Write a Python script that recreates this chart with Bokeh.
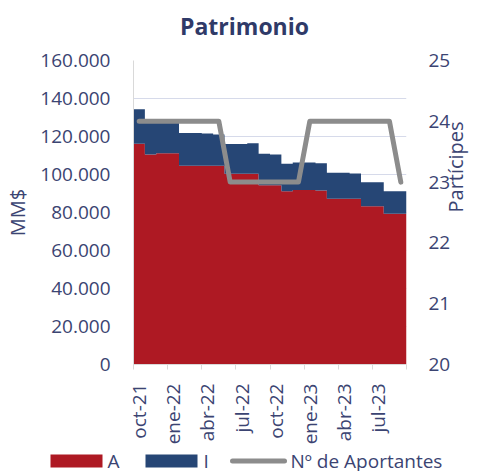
import math
import numpy as np
from bokeh.plotting import figure
from bokeh.layouts import column
from bokeh.models import Range1d, LinearAxis, FixedTicker
from bokeh.core.properties import value
from bokeh.embed import file_html
from bokeh.resources import INLINE

# ---- data ----
months = ["oct-21", "nov-21", "dic-21", "ene-22", "feb-22", "mar-22", "abr-22", "may-22",
          "jun-22", "jul-22", "ago-22", "sep-22", "oct-22", "nov-22", "dic-22", "ene-23",
          "feb-23", "mar-23", "abr-23", "may-23", "jun-23", "jul-23", "ago-23", "sep-23"]
serie_A = [116200, 110500, 111200, 111200, 104600, 104600, 104600, 104600,
           100400, 100400, 100400, 94300, 94300, 91200, 91900, 91900,
           91600, 87200, 87200, 87200, 83300, 83300, 79300, 79300]
serie_I = [18200, 17000, 16300, 16300, 17200, 17200, 17000, 16400,
           15700, 15700, 16100, 16600, 16200, 14400, 14400, 14400,
           14300, 13700, 13700, 13300, 12600, 12600, 11900, 11900]
aportantes = [24, 24, 24, 24, 24, 24, 24, 24,
              23, 23, 23, 23, 23, 23, 23, 24,
              24, 24, 24, 24, 24, 24, 24, 23]
left_ticks = [0, 20000, 40000, 60000, 80000, 100000, 120000, 140000, 160000]
left_labels = ["0", "20.000", "40.000", "60.000", "80.000", "100.000", "120.000", "140.000", "160.000"]
right_ticks = [20, 21, 22, 23, 24, 25]
legend_labels = ["A", "I", "Nº de Aportantes"]
chart_title = "Patrimonio"

RED = "#AE1923"
BLUE = "#264675"
GRAY = "#8C8C8C"
TXT = "#3B4472"
FONT = "Open Sans"
W = 485


def no_align(f):
    if "frame_align" in f.properties():
        f.frame_align = False


def strip(h):
    f = figure(width=W, height=h, output_backend="svg", toolbar_location=None, title=None,
               x_axis_location=None, y_axis_location=None,
               x_range=Range1d(0, W), y_range=Range1d(h, 0),
               min_border=0, min_border_left=0, min_border_right=0,
               min_border_top=0, min_border_bottom=0)
    f.outline_line_color = None
    f.xgrid.visible = False
    f.ygrid.visible = False
    no_align(f)
    return f


# ---- header (title) ----
head = strip(40)
head.text(x=[244], y=[25], text=[chart_title], text_font=value(FONT), text_font_size="23px",
          text_font_style="bold", text_color="#2F3A68", text_align="center",
          text_baseline="middle")

# ---- main chart ----
n = len(months)
idx = np.arange(n)
xs = np.repeat(np.arange(n + 1), 2)[1:-1]
a_step = np.repeat(np.array(serie_A, dtype=float), 2)
tot_step = np.repeat(np.array(serie_A, dtype=float) + np.array(serie_I, dtype=float), 2)

p = figure(width=W, height=408, output_backend="svg", toolbar_location=None, title=None,
           x_range=Range1d(0, n), y_range=Range1d(0, 160000),
           min_border_left=133, min_border_right=79, min_border_top=20, min_border_bottom=84)
p.outline_line_color = None
no_align(p)
p.extra_y_ranges = {"right": Range1d(20, 25)}

p.varea(x=xs, y1=0, y2=a_step, fill_color=RED)
p.varea(x=xs, y1=a_step, y2=tot_step, fill_color=BLUE)
p.line(x=idx + 0.5, y=aportantes, y_range_name="right", line_color=GRAY,
       line_width=5, line_join="round", line_cap="round")

p.xgrid.grid_line_color = None
p.ygrid.grid_line_color = "#D6DAEA"
p.ygrid.level = "underlay"

ly = p.yaxis[0]
ly.ticker = FixedTicker(ticks=left_ticks)
ly.major_label_overrides = {t: s for t, s in zip(left_ticks, left_labels)}
ly.major_tick_out = 0
ly.major_tick_in = 0
ly.minor_tick_out = 0
ly.minor_tick_in = 0
ly.axis_line_color = "#D9D9D9"
ly.major_label_standoff = 23
ly.major_label_text_font = FONT
ly.major_label_text_font_size = "19px"
ly.major_label_text_color = TXT
ly.axis_label = "MM$"
ly.axis_label_text_font = FONT
ly.axis_label_text_font_size = "20px"
ly.axis_label_text_font_style = "normal"
ly.axis_label_text_color = TXT
ly.axis_label_standoff = 6

ry = LinearAxis(y_range_name="right", ticker=FixedTicker(ticks=right_ticks))
ry.major_tick_out = 0
ry.major_tick_in = 0
ry.minor_tick_out = 0
ry.minor_tick_in = 0
ry.axis_line_color = None
ry.major_label_standoff = 22
ry.major_label_text_font = FONT
ry.major_label_text_font_size = "19px"
ry.major_label_text_color = TXT
ry.axis_label = "Partícipes"
ry.axis_label_text_font = FONT
ry.axis_label_text_font_size = "20px"
ry.axis_label_text_font_style = "normal"
ry.axis_label_text_color = TXT
ry.axis_label_standoff = 2
if "axis_label_orientation" in ry.properties():
    ry.axis_label_orientation = math.pi / 2
p.add_layout(ry, "right")

xa = p.xaxis[0]
label_pos = [i + 0.5 for i in range(0, n, 3)]
xa.ticker = FixedTicker(ticks=label_pos, minor_ticks=list(range(0, n + 1, 3)))
xa.major_label_overrides = {i + 0.5: months[i] for i in range(0, n, 3)}
xa.major_label_orientation = math.pi / 2
xa.major_tick_out = 0
xa.major_tick_in = 0
xa.minor_tick_out = 5
xa.minor_tick_in = 0
xa.minor_tick_line_color = "#D9D9D9"
xa.axis_line_color = "#D9D9D9"
xa.major_label_standoff = 14
xa.major_label_text_font = FONT
xa.major_label_text_font_size = "19px"
xa.major_label_text_color = TXT

# ---- legend strip ----
lg = strip(23)
lg.quad(left=[50, 145], right=[102, 197], top=[6, 6], bottom=[19, 19],
        fill_color=[RED, BLUE], line_color=None)
lg.line(x=[232, 284], y=[12.5, 12.5], line_color=GRAY, line_width=5, line_cap="round")
lg.text(x=[107, 203, 290], y=[12, 12, 12], text=legend_labels, text_font=value(FONT),
        text_font_size="19px", text_color=TXT, text_baseline="middle", text_align="left")

open("out.html", "w").write(file_html(column(head, p, lg, spacing=0), INLINE))
